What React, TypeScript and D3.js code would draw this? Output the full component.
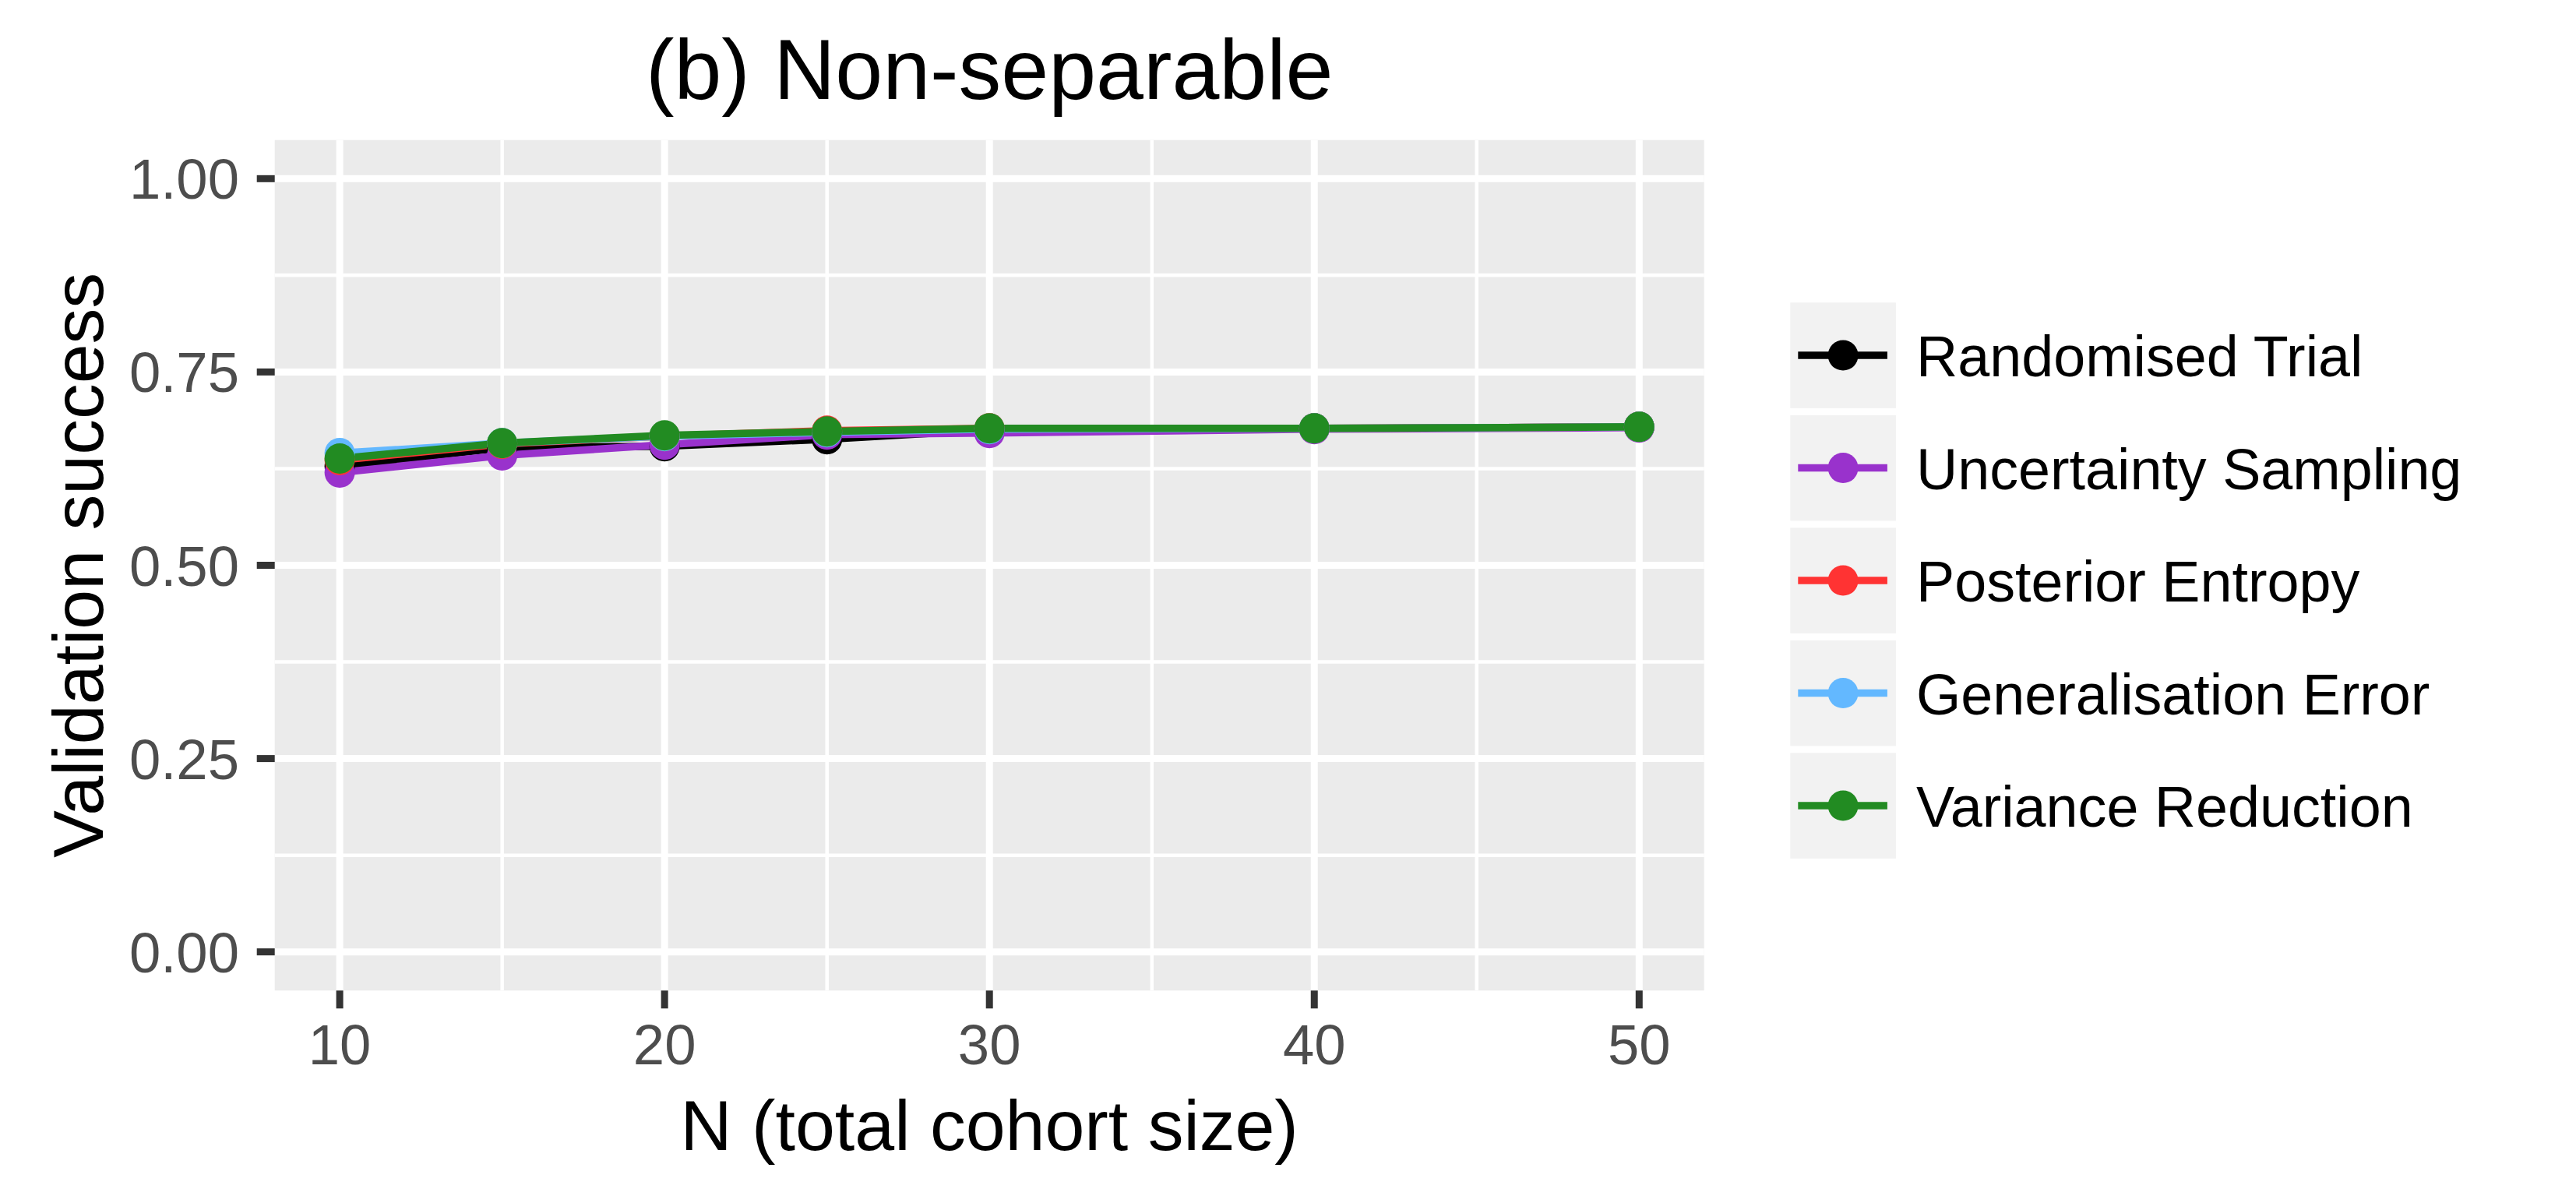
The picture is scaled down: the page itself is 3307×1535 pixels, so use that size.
import React from "react";
import * as d3 from "d3";

const nValues = [10, 15, 20, 25, 30, 40, 50];
const randomisedTrial = [0.628, 0.652, 0.654, 0.663, 0.675, 0.677, 0.679];
const uncertaintySampling = [0.62, 0.642, 0.656, 0.669, 0.671, 0.676, 0.678];
const posteriorEntropy = [0.636, 0.657, 0.667, 0.674, 0.677, 0.677, 0.679];
const generalisationError = [0.645, 0.658, 0.667, 0.672, 0.676, 0.677, 0.679];
const varianceReduction = [0.638, 0.658, 0.668, 0.673, 0.677, 0.677, 0.679];

const seriesNames = [
  "Randomised Trial",
  "Uncertainty Sampling",
  "Posterior Entropy",
  "Generalisation Error",
  "Variance Reduction",
];
const seriesColors = ["#000000", "#9932CC", "#FF3333", "#63B8FF", "#228B22"];
const seriesValues = [
  randomisedTrial,
  uncertaintySampling,
  posteriorEntropy,
  generalisationError,
  varianceReduction,
];

const xMajor = [10, 20, 30, 40, 50];
const xMinor = [15, 25, 35, 45];
const yMajor = [0, 0.25, 0.5, 0.75, 1.0];
const yMinor = [0.125, 0.375, 0.625, 0.875];
const yTickLabels = ["0.00", "0.25", "0.50", "0.75", "1.00"];

const titleText = "(b) Non-separable";
const xTitle = "N (total cohort size)";
const yTitle = "Validation success";

const W = 3307;
const H = 1535;
const FONT = "'Liberation Sans', Arial, Helvetica, sans-serif";

export default function App() {
  const panel = { left: 352.7, right: 2187.7, top: 179.7, bottom: 1271.3 };
  const x = d3.scaleLinear().domain([8, 52]).range([panel.left, panel.right]);
  const y = d3.scaleLinear().domain([-0.05, 1.05]).range([panel.bottom, panel.top]);

  const line = d3
    .line<[number, number]>()
    .x((d) => x(d[0]))
    .y((d) => y(d[1]));

  const legendX = 2298.3;
  const legendTop = 388.3;
  const keySize = 135.6;
  const keyPitch = 144.5;

  return (
    <svg
      width={W}
      height={H}
      style={{ position: "absolute", left: 0, top: 0, display: "block", background: "#ffffff" }}
      fontFamily={FONT}
    >
      <rect x={0} y={0} width={W} height={H} fill="#ffffff" />
      {/* panel */}
      <rect
        x={panel.left}
        y={panel.top}
        width={panel.right - panel.left}
        height={panel.bottom - panel.top}
        fill="#EBEBEB"
      />
      {/* minor grid */}
      {yMinor.map((v) => (
        <line key={"ym" + v} x1={panel.left} x2={panel.right} y1={y(v)} y2={y(v)} stroke="#fff" strokeWidth={4.5} />
      ))}
      {xMinor.map((v) => (
        <line key={"xm" + v} x1={x(v)} x2={x(v)} y1={panel.top} y2={panel.bottom} stroke="#fff" strokeWidth={4.5} />
      ))}
      {/* major grid */}
      {yMajor.map((v) => (
        <line key={"yM" + v} x1={panel.left} x2={panel.right} y1={y(v)} y2={y(v)} stroke="#fff" strokeWidth={9} />
      ))}
      {xMajor.map((v) => (
        <line key={"xM" + v} x1={x(v)} x2={x(v)} y1={panel.top} y2={panel.bottom} stroke="#fff" strokeWidth={9} />
      ))}

      {/* lines */}
      {seriesValues.map((vals, i) => (
        <path
          key={"l" + i}
          d={line(nValues.map((n, j) => [n, vals[j]] as [number, number])) || ""}
          fill="none"
          stroke={seriesColors[i]}
          strokeWidth={9.5}
          strokeLinejoin="round"
        />
      ))}
      {/* points */}
      {seriesValues.map((vals, i) =>
        nValues.map((n, j) => (
          <circle key={"p" + i + "-" + j} cx={x(n)} cy={y(vals[j])} r={19.5} fill={seriesColors[i]} />
        ))
      )}

      {/* y axis ticks */}
      {yMajor.map((v, i) => (
        <g key={"yt" + v}>
          <line x1={panel.left - 23} x2={panel.left} y1={y(v)} y2={y(v)} stroke="#333333" strokeWidth={9} />
          <text x={307} y={y(v) + 26} textAnchor="end" fontSize={72.5} fill="#4D4D4D">
            {yTickLabels[i]}
          </text>
        </g>
      ))}
      {/* x axis ticks */}
      {xMajor.map((v) => (
        <g key={"xt" + v}>
          <line x1={x(v)} x2={x(v)} y1={panel.bottom} y2={panel.bottom + 23} stroke="#333333" strokeWidth={9} />
          <text x={x(v)} y={1366} textAnchor="middle" fontSize={72.5} fill="#4D4D4D">
            {String(v)}
          </text>
        </g>
      ))}

      {/* titles */}
      <text x={(panel.left + panel.right) / 2} y={126.7} textAnchor="middle" fontSize={109.5} fill="#000">
        {titleText}
      </text>
      <text x={(panel.left + panel.right) / 2} y={1476} textAnchor="middle" fontSize={91.5} fill="#000">
        {xTitle}
      </text>
      <text
        transform={`translate(132, ${(panel.top + panel.bottom) / 2}) rotate(-90)`}
        textAnchor="middle"
        fontSize={91.5}
        fill="#000"
      >
        {yTitle}
      </text>

      {/* legend */}
      {seriesNames.map((name, i) => {
        const top = legendTop + i * keyPitch;
        const cy = top + keySize / 2;
        return (
          <g key={"lg" + i}>
            <rect x={legendX} y={top} width={keySize} height={keySize} fill="#F2F2F2" />
            <line
              x1={legendX + 10}
              x2={legendX + keySize - 11}
              y1={cy}
              y2={cy}
              stroke={seriesColors[i]}
              strokeWidth={9.5}
            />
            <circle cx={legendX + keySize / 2} cy={cy} r={19.5} fill={seriesColors[i]} />
            <text x={2460} y={cy + 27} fontSize={73.7} fill="#000">
              {name}
            </text>
          </g>
        );
      })}
    </svg>
  );
}
